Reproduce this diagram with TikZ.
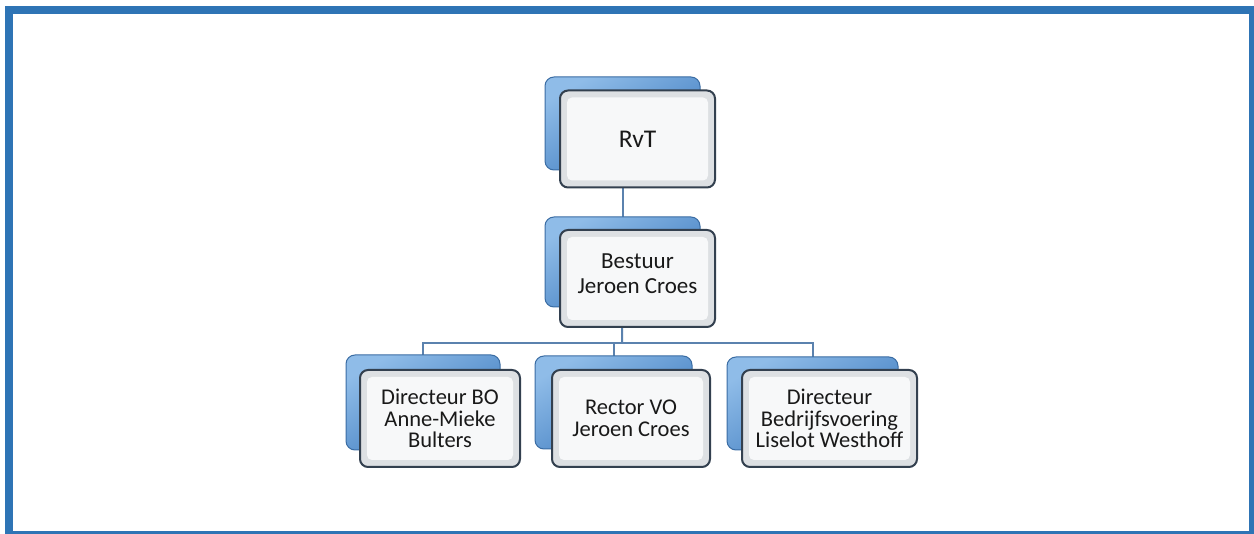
\documentclass[tikz,border=0pt]{standalone}
\usepackage{fontspec}
\setmainfont{Carlito}
\usetikzlibrary{backgrounds}
\definecolor{frameblue}{HTML}{2E74B5}
\definecolor{linkblue}{HTML}{5B82AE}
\definecolor{backdark}{HTML}{3A78BD}
\definecolor{backlight}{HTML}{8FBCE8}
\definecolor{backedge}{HTML}{3A6CA3}
\definecolor{frontedge}{HTML}{33404F}
\definecolor{frontband}{HTML}{DDE0E3}
\definecolor{frontin}{HTML}{F7F8F9}
\tikzset{
  backbox/.style={draw=backedge, line width=1pt, rounded corners=9pt,
    top color=backlight, bottom color=backdark, shading angle=30,
    inner sep=0pt},
  frontbox/.style={draw=frontedge, line width=2pt, rounded corners=8pt,
    fill=frontband, inner sep=0pt, align=center, text=black!90,
    path picture={
      \fill[frontin, rounded corners=5pt]
        ([xshift=7pt,yshift=7pt]path picture bounding box.south west)
        rectangle ([xshift=-7pt,yshift=-7pt]path picture bounding box.north east);
    }},
  link/.style={draw=linkblue, line width=2pt},
  smalltxt/.style={font=\fontsize{22.5}{21.7}\selectfont},
}
\begin{document}
\begin{tikzpicture}[x=1pt,y=-1pt]
\useasboundingbox (0,0) rectangle (1254,534);
% frame
\fill[frameblue] (5,6) rectangle (1254,14);
\fill[frameblue] (5,6) rectangle (13,534);
\fill[frameblue] (1249,6) rectangle (1254,534);
\fill[frameblue] (5,531.5) rectangle (1254,534);

% RvT
\node[backbox, minimum width=155pt, minimum height=93pt] (rvtb) at (622.5,123.5) {};
\node[frontbox, minimum width=155pt, minimum height=97pt, font=\fontsize{25.5}{27}\selectfont] (rvt) at (637.5,139) {RvT};
% Bestuur
\node[backbox, minimum width=155pt, minimum height=90pt] (bestb) at (622.5,262) {};
\node[frontbox, minimum width=155pt, minimum height=97pt, font=\fontsize{23}{25}\selectfont, text depth=10pt] (best) at (637.5,278.5) {Bestuur\\Jeroen Croes};
% Directeur BO
\node[backbox, minimum width=154pt, minimum height=95pt] (bob) at (423,402.5) {};
\node[frontbox, smalltxt, minimum width=160pt, minimum height=97pt] (bo) at (440,418.5) {Directeur BO\\Anne-Mieke\\Bulters};
% Rector VO
\node[backbox, minimum width=157pt, minimum height=93pt] (rvob) at (613.5,402.5) {};
\node[frontbox, smalltxt, minimum width=158pt, minimum height=97pt] (rvo) at (631,418.5) {Rector VO\\Jeroen Croes};
% Directeur Bedrijfsvoering
\node[backbox, minimum width=171pt, minimum height=93pt] (lwb) at (812.5,403.5) {};
\node[frontbox, smalltxt, minimum width=175pt, minimum height=97pt] (lw) at (829.5,418.5) {Directeur\\Bedrijfsvoering\\Liselot Westhoff};

% connectors (behind the boxes)
\coordinate (bus) at (622,343);
\begin{scope}[on background layer]
\draw[link] (rvtb.center) -- (bestb.center);
\draw[link] (bestb.center) -- (bus);
\draw[link] (bob.center) |- (bus) -| (lwb.center);
\draw[link] (rvob.center) -- (rvob.center |- bus);
\end{scope}
\end{tikzpicture}
\end{document}
